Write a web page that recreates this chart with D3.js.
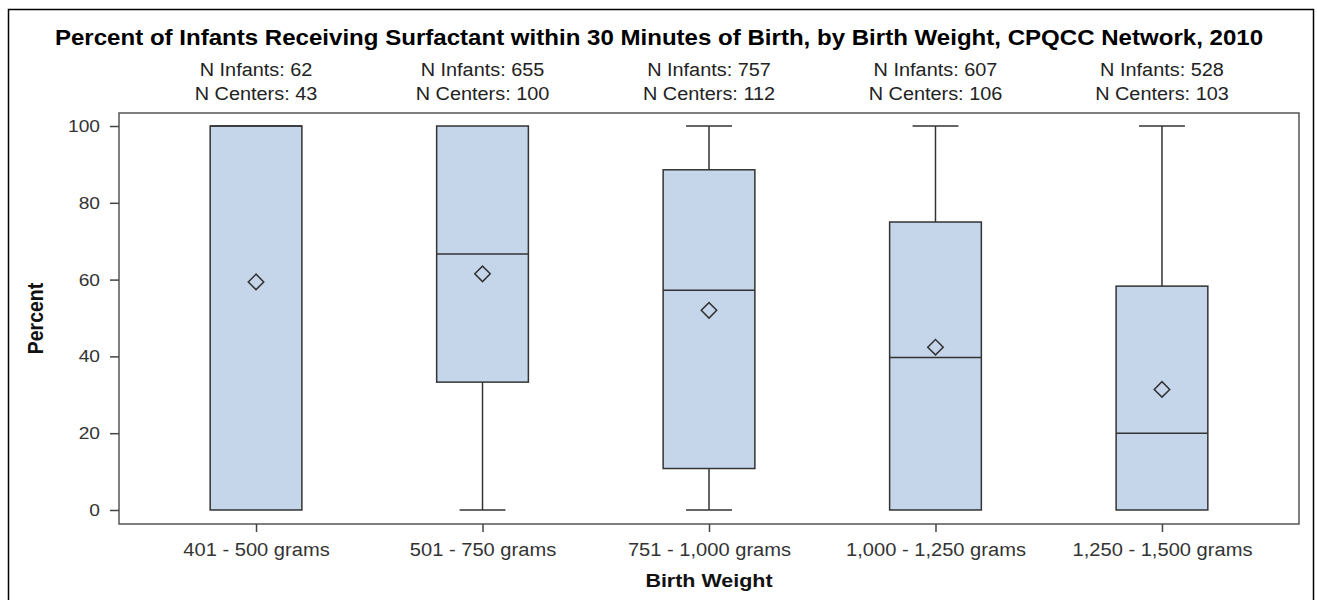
<!DOCTYPE html>
<html>
<head>
<meta charset="utf-8">
<script src="https://cdn.jsdelivr.net/npm/d3@7"></script>
<style>
  body { margin: 0; background: #fff; }
  text { font-family: "Liberation Sans", Arial, sans-serif; }
</style>
</head>
<body>
<div class="content"></div>
<script>
var categories = ['401 - 500 grams', '501 - 750 grams', '751 - 1,000 grams', '1,000 - 1,250 grams', '1,250 - 1,500 grams'];
var nInfants = [62, 655, 757, 607, 528];
var nCenters = [43, 100, 112, 106, 103];
var minVal = [0, 0, 0, 0, 0];
var q1Val = [0, 33.3, 10.8, 0, 0];
var medianVal = [100, 66.7, 57.2, 39.7, 20];
var q3Val = [100, 100, 88.6, 75, 58.3];
var maxVal = [100, 100, 100, 100, 100];
var meanVal = [59.4, 61.5, 52, 42.4, 31.4];
var yTicks = [0, 20, 40, 60, 80, 100];

var data = categories.map(function(c, i) {
  return {
    name: c, infants: nInfants[i], centers: nCenters[i],
    min: minVal[i], q1: q1Val[i], median: medianVal[i],
    q3: q3Val[i], max: maxVal[i], mean: meanVal[i]
  };
});

var svgWidth = 1317, svgHeight = 600;
var plot = {left: 119, top: 113, right: 1299, bottom: 524};
// the original text is a bit wider than it is tall
var sx = 1.13;

var svg = d3.select('.content')
  .append('svg')
  .attr('width', svgWidth)
  .attr('height', svgHeight);

// outer border
svg.append('rect')
  .attr('x', 8.5).attr('y', 9.5)
  .attr('width', 1305).attr('height', 610)
  .attr('fill', 'none')
  .attr('stroke', '#000')
  .attr('stroke-width', 1.5);

var x = d3.scalePoint()
  .domain(categories)
  .range([plot.left, plot.right])
  .padding(0.605);

var y = d3.scaleLinear()
  .domain([-3.65, 103.39])
  .range([plot.bottom, plot.top]);

var boxW = x.step() * 0.405;
var capW = boxW / 2;

// title
svg.append('text')
  .attr('transform', 'translate(659,45) scale(' + sx + ',1)')
  .attr('text-anchor', 'middle')
  .style('font-size', '21.3px')
  .style('font-weight', 'bold')
  .style('fill', '#000')
  .text('Percent of Infants Receiving Surfactant within 30 Minutes of Birth, by Birth Weight, CPQCC Network, 2010');

// N labels above each box
var nG = svg.append('g').attr('class', 'nlabels');
nG.selectAll('.ninf')
  .data(data).enter()
  .append('text')
  .attr('transform', function(d) { return 'translate(' + x(d.name) + ',76) scale(' + sx + ',1)'; })
  .attr('text-anchor', 'middle')
  .style('font-size', '17.6px')
  .style('fill', '#222')
  .text(function(d) { return 'N Infants: ' + d.infants; });
nG.selectAll('.ncen')
  .data(data).enter()
  .append('text')
  .attr('transform', function(d) { return 'translate(' + x(d.name) + ',100) scale(' + sx + ',1)'; })
  .attr('text-anchor', 'middle')
  .style('font-size', '17.6px')
  .style('fill', '#222')
  .text(function(d) { return 'N Centers: ' + d.centers; });

// plot frame
svg.append('rect')
  .attr('x', plot.left).attr('y', plot.top)
  .attr('width', plot.right - plot.left)
  .attr('height', plot.bottom - plot.top)
  .attr('fill', 'none')
  .attr('stroke', '#555')
  .attr('stroke-width', 1.5);

var boxG = svg.append('g').attr('class', 'boxes');

// whiskers
boxG.selectAll('.whisker-hi')
  .data(data).enter()
  .append('line')
  .attr('x1', function(d) { return x(d.name); })
  .attr('x2', function(d) { return x(d.name); })
  .attr('y1', function(d) { return y(d.q3); })
  .attr('y2', function(d) { return y(d.max); })
  .attr('stroke', '#333').attr('stroke-width', 1.5);
boxG.selectAll('.whisker-lo')
  .data(data).enter()
  .append('line')
  .attr('x1', function(d) { return x(d.name); })
  .attr('x2', function(d) { return x(d.name); })
  .attr('y1', function(d) { return y(d.q1); })
  .attr('y2', function(d) { return y(d.min); })
  .attr('stroke', '#333').attr('stroke-width', 1.5);

// caps (only where whisker exists)
boxG.selectAll('.cap-hi')
  .data(data.filter(function(d) { return d.max > d.q3; })).enter()
  .append('line')
  .attr('x1', function(d) { return x(d.name) - capW / 2; })
  .attr('x2', function(d) { return x(d.name) + capW / 2; })
  .attr('y1', function(d) { return y(d.max); })
  .attr('y2', function(d) { return y(d.max); })
  .attr('stroke', '#333').attr('stroke-width', 1.5);
boxG.selectAll('.cap-lo')
  .data(data.filter(function(d) { return d.min < d.q1; })).enter()
  .append('line')
  .attr('x1', function(d) { return x(d.name) - capW / 2; })
  .attr('x2', function(d) { return x(d.name) + capW / 2; })
  .attr('y1', function(d) { return y(d.min); })
  .attr('y2', function(d) { return y(d.min); })
  .attr('stroke', '#333').attr('stroke-width', 1.5);

// boxes
boxG.selectAll('.box')
  .data(data).enter()
  .append('rect')
  .attr('x', function(d) { return x(d.name) - boxW / 2; })
  .attr('y', function(d) { return y(d.q3); })
  .attr('width', boxW)
  .attr('height', function(d) { return y(d.q1) - y(d.q3); })
  .attr('fill', '#c5d6eb')
  .attr('stroke', '#333')
  .attr('stroke-width', 1.5);

// medians
boxG.selectAll('.median')
  .data(data).enter()
  .append('line')
  .attr('x1', function(d) { return x(d.name) - boxW / 2; })
  .attr('x2', function(d) { return x(d.name) + boxW / 2; })
  .attr('y1', function(d) { return y(d.median); })
  .attr('y2', function(d) { return y(d.median); })
  .attr('stroke', '#333').attr('stroke-width', 1.5);

// means as diamonds
var symbol = d3.symbol().type(d3.symbolSquare).size(120);
boxG.selectAll('.mean')
  .data(data).enter()
  .append('path')
  .attr('d', symbol)
  .attr('transform', function(d) {
    return 'translate(' + x(d.name) + ',' + y(d.mean) + ') rotate(45)';
  })
  .attr('fill', 'none')
  .attr('stroke', '#333')
  .attr('stroke-width', 1.5);

// y axis
var axis_y = svg.append('g')
  .attr('class', 'axis axis--y')
  .attr('transform', 'translate(' + plot.left + ',0)')
  .call(d3.axisLeft(y).tickValues(yTicks).tickSize(9).tickPadding(10));
axis_y.select('.domain').remove();
axis_y.selectAll('line').attr('stroke', '#444').attr('stroke-width', 1.5);
axis_y.selectAll('text')
  .attr('x', -19 / sx)
  .attr('transform', 'scale(' + sx + ',1)')
  .style('font-size', '17px')
  .style('font-family', '"Liberation Sans", Arial, sans-serif')
  .style('fill', '#333');

// x axis
var axis_x = svg.append('g')
  .attr('class', 'axis axis--x')
  .attr('transform', 'translate(0,' + plot.bottom + ')')
  .call(d3.axisBottom(x).tickSize(8).tickPadding(11));
axis_x.select('.domain').remove();
axis_x.selectAll('line').attr('stroke', '#444').attr('stroke-width', 1.5);
axis_x.selectAll('text')
  .attr('transform', 'scale(' + sx + ',1)')
  .style('font-size', '17.8px')
  .style('font-family', '"Liberation Sans", Arial, sans-serif')
  .style('fill', '#333');

// axis titles
svg.append('text')
  .attr('transform', 'translate(' + (plot.left + plot.right) / 2 + ',587) scale(' + sx + ',1)')
  .attr('text-anchor', 'middle')
  .style('font-size', '19px')
  .style('font-weight', 'bold')
  .style('fill', '#111')
  .text('Birth Weight');

svg.append('text')
  .attr('transform', 'translate(43,' + (plot.top + plot.bottom) / 2 + ') rotate(-90) scale(1,' + sx + ')')
  .attr('text-anchor', 'middle')
  .style('font-size', '19.5px')
  .style('font-weight', 'bold')
  .style('fill', '#111')
  .text('Percent');
</script>
</body>
</html>
